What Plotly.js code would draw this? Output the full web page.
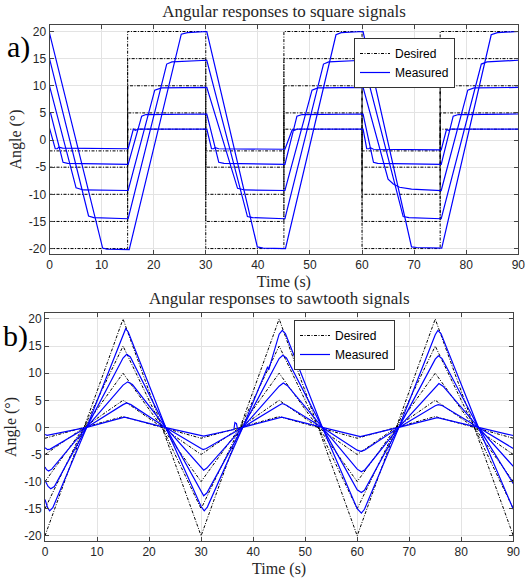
<!DOCTYPE html>
<html>
<head>
<meta charset="utf-8">
<script src="https://cdn.plot.ly/plotly-3.0.1.min.js"></script>
<style>html,body{margin:0;padding:0;background:#fff;}#chart{width:528px;height:580px;}</style>
</head>
<body>
<div id="chart"></div>
<script>
// ---------- Data: square signals ----------
const amplitudes = [2, 5, 10, 15, 20];
const sqDesiredT = [0, 15, 15, 30, 30, 45, 45, 60, 60, 75, 75, 90];
const sqDesired2  = [-2, -2, 2, 2, -2, -2, 2, 2, -2, -2, 2, 2];
const sqDesired5  = [-5, -5, 5, 5, -5, -5, 5, 5, -5, -5, 5, 5];
const sqDesired10 = [-10, -10, 10, 10, -10, -10, 10, 10, -10, -10, 10, 10];
const sqDesired15 = [-15, -15, 15, 15, -15, -15, 15, 15, -15, -15, 15, 15];
const sqDesired20 = [-20, -20, 20, 20, -20, -20, 20, 20, -20, -20, 20, 20];

const sqMeasT2 = [0, 1.1, 1.5, 1.8, 2.5, 15.1, 16.1, 16.5, 17, 30.2, 31.1, 31.5, 31.8, 32.5, 45.2, 46.6, 47.0, 47.5, 60.2, 60.9, 61.3, 61.6, 62.2, 75.2, 76.2, 76.6, 77.0, 90];
const sqMeasY2 = [2.2, -1.6, -1.6, -1.3, -1.5, -1.6, 2.0, 1.8, 2.0, 2.0, -1.6, -1.6, -1.4, -1.6, -1.7, 1.9, 1.8, 2.0, 2.0, -1.6, -1.6, -1.4, -1.7, -1.8, 1.9, 1.8, 2.0, 2.0];
const sqMeasT5 = [0, 0.2, 2.6, 3.5, 15.1, 17.7, 18.5, 30.2, 32.5, 33.5, 45.2, 47.5, 48.5, 60.2, 62.2, 63.0, 75.2, 77.5, 78.5, 90];
const sqMeasY5 = [5.0, 5.0, -4.1, -4.3, -4.5, 4.4, 4.7, 4.8, -4.1, -4.3, -4.5, 4.4, 4.7, 4.8, -4.1, -4.3, -4.5, 4.4, 4.7, 4.8];
const sqMeasT10 = [0, 5.1, 6.5, 15.1, 20.2, 21.5, 30.2, 36.1, 37.5, 45.2, 50.4, 51.5, 60.2, 65.0, 66.0, 67.2, 69.5, 72.0, 75.2, 80.3, 81.5, 90];
const sqMeasY10 = [10.0, -8.8, -9.2, -9.3, 9.2, 9.6, 9.7, -8.9, -9.2, -9.3, 9.2, 9.6, 9.7, -7.2, -8.1, -8.7, -9.05, -9.2, -9.3, 9.2, 9.6, 9.7];
const sqMeasT15 = [0, 7.5, 8.5, 15.1, 22.5, 23.5, 30.2, 38.0, 39.0, 45.2, 52.6, 53.6, 60.2, 67.9, 69.0, 75.2, 82.9, 84.0, 90];
const sqMeasY15 = [15.0, -14.0, -14.3, -14.5, 14.0, 14.4, 14.7, -14.1, -14.3, -14.5, 14.0, 14.4, 14.7, -14.1, -14.3, -14.5, 14.0, 14.4, 14.7];
const sqMeasT20 = [0, 10.2, 11.0, 15.3, 25.3, 26.5, 28.0, 30.2, 39.9, 41.0, 45.3, 55.0, 56.0, 58.0, 60.2, 69.5, 70.5, 75.3, 84.8, 86.0, 88.0, 90];
const sqMeasY20 = [19.7, -19.9, -20.1, -20.2, 19.5, 19.8, 19.9, 20.0, -19.7, -19.9, -20.0, 19.4, 19.8, 19.95, 20.0, -19.7, -19.8, -19.9, 19.4, 19.8, 19.95, 20.0];

// ---------- Data: sawtooth signals ----------
const swDesiredT = [0, 15, 30, 45, 60, 75, 90];
const swDesired2  = [-2, 2, -2, 2, -2, 2, -2];
const swDesired5  = [-5, 5, -5, 5, -5, 5, -5];
const swDesired10 = [-10, 10, -10, 10, -10, 10, -10];
const swDesired15 = [-15, 15, -15, 15, -15, 15, -15];
const swDesired20 = [-20, 20, -20, 20, -20, 20, -20];

const swMeasT2 = [0, 0.4, 8.0, 15.3, 23.0, 30.5, 36.3, 36.5, 36.8, 37.0, 38.0, 45.5, 53.3, 60.6, 68.0, 75.4, 83.3, 90];
const swMeasY2 = [-1.3, -1.45, 0, 1.9, 0, -1.6, -0.4, 0.9, 0.7, -0.3, 0, 1.9, 0, -1.7, 0, 1.8, 0, -1.5];
const swMeasT5 = [0, 0.5, 1.0, 8.0, 15.0, 15.7, 16.5, 23.2, 30.0, 30.4, 31.0, 38.0, 45.0, 45.6, 46.4, 53.3, 60.0, 60.7, 61.4, 68.0, 75.0, 75.6, 76.4, 83.3, 90];
const swMeasY5 = [-3.75, -4.1, -4.0, 0, 4.2, 4.5, 4.2, 0, -3.9, -4.1, -3.9, 0, 4.1, 4.4, 4.1, 0, -4.2, -4.4, -4.2, 0, 4.0, 4.2, 4.0, 0, -3.9];
const swMeasT10 = [0, 0.3, 0.7, 1.3, 8.0, 15.0, 15.9, 16.8, 23.2, 30.0, 30.5, 31.1, 38.0, 45.0, 45.8, 46.6, 53.3, 60.0, 60.8, 61.5, 68.0, 75.0, 75.7, 76.5, 83.3, 90];
const swMeasY10 = [-7.3, -7.8, -8.05, -7.7, 0, 7.8, 8.4, 7.9, 0, -7.4, -7.9, -7.5, 0, 7.6, 8.2, 7.7, 0, -7.7, -8.2, -7.8, 0, 7.5, 8.1, 7.6, 0, -7.2];
const swMeasT15 = [0, 0.6, 1.1, 1.8, 8.0, 15.0, 15.7, 16.4, 23.2, 30.0, 30.5, 31.1, 38.0, 45.0, 45.7, 46.4, 53.3, 60.0, 60.8, 61.4, 68.0, 75.0, 75.6, 76.3, 83.3, 90];
const swMeasY15 = [-9.8, -10.9, -11.3, -10.9, 0, 12.8, 13.5, 13.0, 0, -12.0, -12.6, -12.1, 0, 12.7, 13.3, 12.8, 0, -11.5, -12.0, -11.6, 0, 12.6, 13.2, 12.7, 0, -10.4];
const swMeasT20 = [0, 0.5, 0.9, 1.5, 8.0, 15.0, 15.5, 16.0, 23.2, 30.0, 30.6, 31.2, 38.0, 42.8, 43.0, 43.2, 45.0, 45.6, 46.2, 53.3, 60.0, 60.8, 61.4, 68.0, 75.0, 75.5, 76.1, 83.3, 90];
const swMeasY20 = [-13.3, -14.8, -15.4, -14.8, 0, 17.3, 18.2, 17.6, 0, -14.6, -15.4, -14.7, 0, 11.2, 10.6, 11.3, 17.2, 17.9, 17.3, 0, -15.0, -15.8, -15.1, 0, 17.1, 17.9, 17.3, 0, -15.1];

// ---------- Ticks ----------
const xTickVals = [0, 10, 20, 30, 40, 50, 60, 70, 80, 90];
const xTickText = ['0', '10', '20', '30', '40', '50', '60', '70', '80', '90'];
const yTickVals = [-20, -15, -10, -5, 0, 5, 10, 15, 20];
const yTickText = ['-20', '-15', '-10', '-5', '0', '5', '10', '15', '20'];

// ---------- Build traces ----------
const SERIF = 'Liberation Serif, Times New Roman, serif';
const SANS = 'Liberation Sans, Arial, sans-serif';
const desiredLine = {color: '#000000', width: 1, dash: '3px,1.5px,1px,1.5px'};
const measuredLine = {color: '#0000ff', width: 1.2};

const sqDes = [sqDesired2, sqDesired5, sqDesired10, sqDesired15, sqDesired20];
const sqMT = [sqMeasT2, sqMeasT5, sqMeasT10, sqMeasT15, sqMeasT20];
const sqMY = [sqMeasY2, sqMeasY5, sqMeasY10, sqMeasY15, sqMeasY20];
const swDes = [swDesired2, swDesired5, swDesired10, swDesired15, swDesired20];
const swMT = [swMeasT2, swMeasT5, swMeasT10, swMeasT15, swMeasT20];
const swMY = [swMeasY2, swMeasY5, swMeasY10, swMeasY15, swMeasY20];

const traces = [];
function addPanel(desT, desArr, mT, mY, xa, ya, leg) {
  desArr.forEach((d, i) => traces.push({
    type: 'scatter', mode: 'lines', x: desT, y: d, xaxis: xa, yaxis: ya,
    line: desiredLine, name: 'Desired', legend: leg, legendgroup: leg + 'd',
    showlegend: i === 0, hoverinfo: 'skip'
  }));
  mT.forEach((t, i) => traces.push({
    type: 'scatter', mode: 'lines', x: t, y: mY[i], xaxis: xa, yaxis: ya,
    line: measuredLine, name: 'Measured', legend: leg, legendgroup: leg + 'm',
    showlegend: i === 0, hoverinfo: 'skip'
  }));
}
addPanel(sqDesiredT, sqDes, sqMT, sqMY, 'x', 'y', 'legend');
addPanel(swDesiredT, swDes, swMT, swMY, 'x2', 'y2', 'legend2');

function xAxis(domain, anchor) {
  return {
    domain: domain, anchor: anchor, range: [0, 90],
    tickmode: 'array', tickvals: xTickVals, ticktext: xTickText,
    ticks: 'inside', ticklen: 4, tickcolor: '#444', mirror: 'ticks',
    showline: true, linecolor: '#444', linewidth: 1,
    showgrid: true, gridcolor: '#e3e3e3', gridwidth: 1, zeroline: false,
    tickfont: {family: SANS, size: 12, color: '#262626'},
    title: {text: 'Time (s)', font: {family: SERIF, size: 16, color: '#262626'}, standoff: 4},
    automargin: false
  };
}
function yAxis(domain, anchor, range) {
  return {
    domain: domain, anchor: anchor, range: range,
    tickmode: 'array', tickvals: yTickVals, ticktext: yTickText,
    ticks: 'inside', ticklen: 4, tickcolor: '#444', mirror: 'ticks',
    showline: true, linecolor: '#444', linewidth: 1,
    showgrid: true, gridcolor: '#e3e3e3', gridwidth: 1, zeroline: false,
    tickfont: {family: SANS, size: 12, color: '#262626'},
    title: {text: 'Angle (°)', font: {family: SERIF, size: 16, color: '#262626'}, standoff: 3},
    automargin: false
  };
}

const legendStyle = {
  bgcolor: '#ffffff', bordercolor: '#333333', borderwidth: 1,
  font: {family: SANS, size: 12, color: '#000'}, itemwidth: 30,
  tracegroupgap: 0, xanchor: 'right', yanchor: 'top', xref: 'paper', yref: 'paper'
};

const layout = {
  width: 528, height: 580,
  margin: {l: 0, r: 0, t: 0, b: 0},
  paper_bgcolor: '#ffffff', plot_bgcolor: '#ffffff',
  showlegend: true,
  title: {text: 'Angular responses to square signals', font: {family: SERIF, size: 17, color: '#262626'},
          x: 284 / 528, xanchor: 'center', y: 1 - 11 / 580, yanchor: 'middle', xref: 'paper'},
  xaxis: xAxis([49.5 / 528, 518.3 / 528], 'y'),
  yaxis: yAxis([1 - 254 / 580, 1 - 25 / 580], 'x', [-21, 21.2]),
  xaxis2: xAxis([45 / 528, 513.3 / 528], 'y2'),
  yaxis2: yAxis([1 - 540.7 / 580, 1 - 313.3 / 580], 'x2', [-20.9, 21.05]),
  legend: Object.assign({}, legendStyle, {x: 455 / 528, y: 1 - 38 / 580}),
  legend2: Object.assign({}, legendStyle, {x: 395 / 528, y: 1 - 320 / 580}),
  annotations: [
    {text: 'Angular responses to sawtooth signals', xref: 'paper', yref: 'paper', x: 279.7 / 528, y: 1 - 298 / 580,
     xanchor: 'center', yanchor: 'middle', showarrow: false, font: {family: SERIF, size: 17, color: '#262626'}},
    {text: 'a)', xref: 'paper', yref: 'paper', x: 5 / 528, y: 1 - 47 / 580, xanchor: 'left', yanchor: 'middle',
     showarrow: false, font: {family: SERIF, size: 30, color: '#000'}},
    {text: 'b)', xref: 'paper', yref: 'paper', x: 1 / 528, y: 1 - 336 / 580, xanchor: 'left', yanchor: 'middle',
     showarrow: false, font: {family: SERIF, size: 30, color: '#000'}}
  ]
};

Plotly.newPlot('chart', traces, layout, {displayModeBar: false, staticPlot: true});
</script>
</body>
</html>
